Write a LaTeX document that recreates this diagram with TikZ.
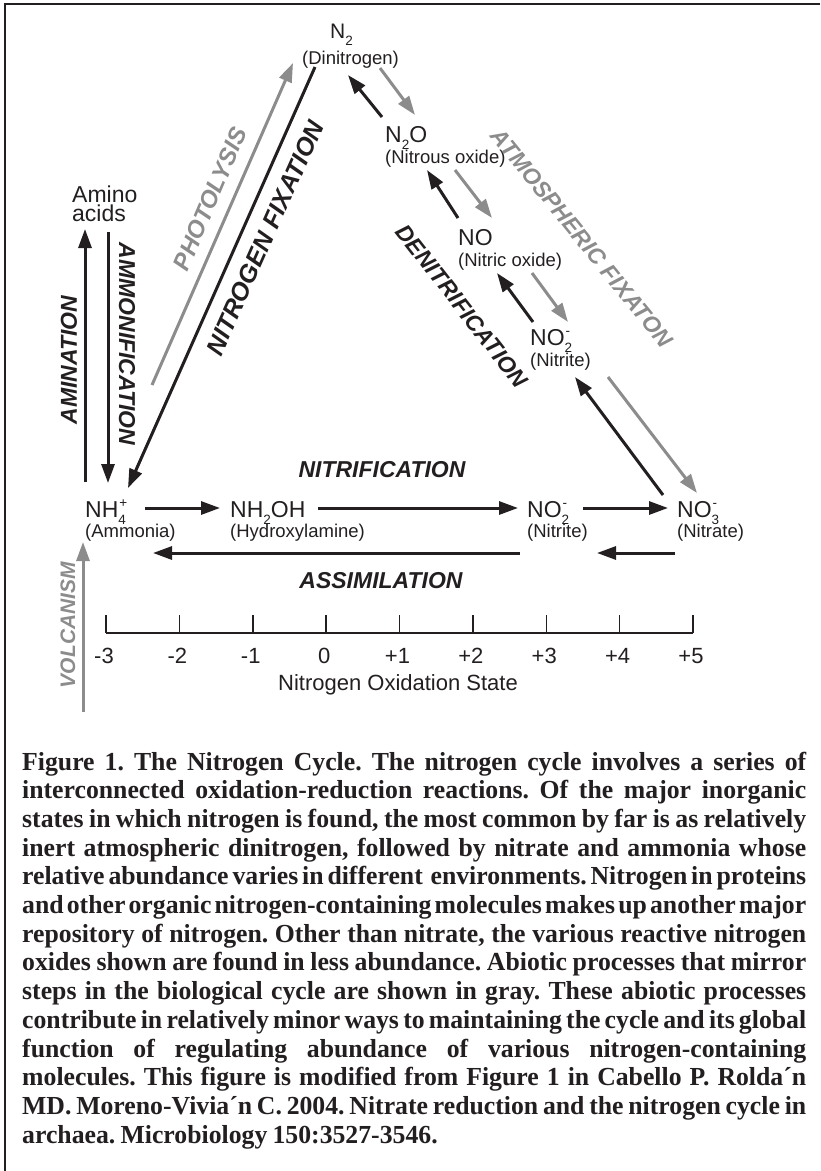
\documentclass[tikz,border=0pt]{standalone}
\usepackage{fontspec}
\setmainfont{Liberation Sans}
\newfontfamily\capfont{Liberation Serif}[FakeStretch=0.99]
\usetikzlibrary{arrows.meta}
\definecolor{ink}{RGB}{35,31,32}
\definecolor{abio}{RGB}{140,140,140}
\newcommand\fsz[1]{\fontsize{#1pt}{#1pt}\selectfont}
\newcommand\chsub[1]{\raisebox{-7pt}{\fsz{13.5}#1}}
\newcommand\chsup[1]{\raisebox{10pt}{\fsz{13.5}#1}}
\newcommand\chboth[2]{\rlap{\kern1pt\chsup{#2}}\chsub{#1}}
\begin{document}
\begin{tikzpicture}[x=1pt,y=-1pt,
  formula/.style={anchor=base west, inner sep=0, font=\fsz{23}, text=ink},
  chemname/.style={anchor=base west, inner sep=0, font=\fsz{18.5}, text=ink},
  proc/.style={inner sep=0, font=\fsz{23}\bfseries\itshape, text=ink},
  abioproc/.style={proc, text=abio},
  bioarrow/.style={draw=ink, line width=3pt, -{Triangle[length=19pt,width=13pt]}},
  abioarrow/.style={bioarrow, draw=abio},
  axisline/.style={draw=ink, line width=1.5pt},
  ticklabel/.style={anchor=base, inner sep=0, font=\fsz{22}, text=ink}]
\useasboundingbox (0,0) rectangle (820,1171);
% frame
\coordinate (frTR) at (820,4);
\coordinate (frTL) at (5,4);
\coordinate (frBL) at (5,1171);
\draw[ink, line width=2.5pt] (frTR) -- (frTL) -- (frBL);

% chemical species
\node[formula, font=\fsz{21}] (n2) at (330,38) {N\chsub{2}};
\node[chemname] (n2n) at (302,64) {(Dinitrogen)};
\node[formula] (n2o) at (385,142) {N\chsub{2}O};
\node[chemname] (n2on) at (385,163) {(Nitrous oxide)};
\node[formula] (no) at (458,245) {NO};
\node[chemname] (non) at (458,266) {(Nitric oxide)};
\node[formula] (no2u) at (530,345) {NO\chboth{2}{-}};
\node[chemname] (no2un) at (530,366) {(Nitrite)};
\node[formula] (nh4) at (85,517) {NH\chboth{4}{+}};
\node[chemname] (nh4n) at (85,537) {(Ammonia)};
\node[formula] (nh2oh) at (230,517) {NH\chsub{2}OH};
\node[chemname] (nh2ohn) at (230,537) {(Hydroxylamine)};
\node[formula] (no2l) at (527,517) {NO\chboth{2}{-}};
\node[chemname] (no2ln) at (527,537) {(Nitrite)};
\node[formula] (no3) at (677,517) {NO\chboth{3}{-}};
\node[chemname] (no3n) at (677,537) {(Nitrate)};
\node[formula] (amino) at (72,202) {Amino};
\node[formula] (acids) at (72,221) {acids};

% process labels
\node[proc] (nitrif) at (382,470) {NITRIFICATION};
\node[proc] (assim) at (381,581) {ASSIMILATION};
\node[proc, rotate=90] (amin) at (69,360) {AMINATION};
\node[proc, rotate=-90] (ammon) at (127,344) {AMMONIFICATION};
\node[abioproc, font=\fsz{21}\bfseries\itshape, rotate=90] (volc) at (68,625) {VOLCANISM};
\node[abioproc, font=\fsz{24}\bfseries\itshape, rotate=67] (photo) at (210,199) {PHOTOLYSIS};
\node[proc, font=\fsz{25}\bfseries\itshape, rotate=66] (nfix) at (265,238) {NITROGEN FIXATION};
\node[proc, rotate=-52] (denit) at (462,306) {DENITRIFICATION};
\node[abioproc, rotate=-51] (atmfix) at (582,238) {ATMOSPHERIC FIXATON};

% arrow end points
\coordinate (a1s) at (145,508);  \coordinate (a1e) at (220,508);
\coordinate (a2s) at (318,508);  \coordinate (a2e) at (518,508);
\coordinate (a3s) at (583,508);  \coordinate (a3e) at (668,508);
\coordinate (b1s) at (675,553);  \coordinate (b1e) at (597,553);
\coordinate (b2s) at (520,553);  \coordinate (b2e) at (153,553);
\coordinate (amS) at (85,482);   \coordinate (amE) at (85,229);
\coordinate (moS) at (108,232);  \coordinate (moE) at (108,483);
\coordinate (voS) at (83,712);   \coordinate (voE) at (83,542);
\coordinate (phS) at (152,385);  \coordinate (phE) at (293,63);
\coordinate (fxS) at (315,67);   \coordinate (fxE) at (128,488);
\coordinate (d1s) at (382,117);  \coordinate (d1e) at (348,75);
\coordinate (g1s) at (380,68);   \coordinate (g1e) at (415,115);
\coordinate (d2s) at (458,218);  \coordinate (d2e) at (427,170);
\coordinate (g2s) at (455,170);  \coordinate (g2e) at (492,218);
\coordinate (d3s) at (533,322);  \coordinate (d3e) at (497,273);
\coordinate (g3s) at (532,273);  \coordinate (g3e) at (568,322);
\coordinate (d4s) at (663,495);  \coordinate (d4e) at (575,377);
\coordinate (g4s) at (608,377);  \coordinate (g4e) at (697,493);

% arrows
\draw[bioarrow] (a1s) -- (a1e);
\draw[bioarrow] (a2s) -- (a2e);
\draw[bioarrow] (a3s) -- (a3e);
\draw[bioarrow] (b1s) -- (b1e);
\draw[bioarrow] (b2s) -- (b2e);
\draw[bioarrow] (amS) -- (amE);
\draw[bioarrow] (moS) -- (moE);
\draw[abioarrow] (voS) -- (voE);
\draw[abioarrow] (phS) -- (phE);
\draw[bioarrow] (fxS) -- (fxE);
\draw[bioarrow] (d1s) -- (d1e);
\draw[abioarrow] (g1s) -- (g1e);
\draw[bioarrow] (d2s) -- (d2e);
\draw[abioarrow] (g2s) -- (g2e);
\draw[bioarrow] (d3s) -- (d3e);
\draw[abioarrow] (g3s) -- (g3e);
\draw[bioarrow] (d4s) -- (d4e);
\draw[abioarrow] (g4s) -- (g4e);

% oxidation state axis
\coordinate (axL) at (106,633);
\coordinate (axR) at (693,633);
\draw[axisline] (axL) -- (axR);
\foreach \v/\lab [count=\i from 0] in {-3/-3,-2/-2,-1/-1,0/0,1/+1,2/+2,3/+3,4/+4,5/+5}{
  \coordinate (tk\i) at ({106+73.375*\i},615);
  \coordinate (tb\i) at ({106+73.375*\i},633);
  \draw[axisline] (tk\i) -- (tb\i);
  \node[ticklabel] (tl\i) at ({106+73.375*\i-2},663) {\lab};
}
\node[ticklabel] (axtitle) at (398,690) {Nitrogen Oxidation State};

% caption
\node[anchor=base west, inner sep=0, text=ink] (caption) at (22,770) {\parbox[t]{784pt}{\capfont\bfseries\fsz{26}\frenchspacing\setlength{\baselineskip}{28.7pt}\spaceskip=.2em plus 1em minus .12em\relax
\makebox[784pt][s]{Figure 1. The Nitrogen Cycle. The nitrogen cycle involves a series of}\\
\makebox[784pt][s]{interconnected oxidation-reduction reactions. Of the major inorganic}\\
\makebox[784pt][s]{states in which nitrogen is found, the most common by far is as relatively}\\
\makebox[784pt][s]{inert atmospheric dinitrogen, followed by nitrate and ammonia whose}\\
\makebox[784pt][s]{relative abundance varies in different\ \ environments. Nitrogen in proteins}\\
\makebox[784pt][s]{and other organic nitrogen-containing molecules makes up another major}\\
\makebox[784pt][s]{repository of nitrogen. Other than nitrate, the various reactive nitrogen}\\
\makebox[784pt][s]{oxides shown are found in less abundance. Abiotic processes that mirror}\\
\makebox[784pt][s]{steps in the biological cycle are shown in gray. These abiotic processes}\\
\makebox[784pt][s]{contribute in relatively minor ways to maintaining the cycle and its global}\\
\makebox[784pt][s]{function of regulating abundance of various nitrogen-containing}\\
\makebox[784pt][s]{molecules. This figure is modified from Figure 1 in Cabello P. Rolda´n}\\
\makebox[784pt][s]{MD. Moreno-Vivia´n C. 2004. Nitrate reduction and the nitrogen cycle in}\\
archaea. Microbiology 150:3527-3546.}};
\end{tikzpicture}
\end{document}
